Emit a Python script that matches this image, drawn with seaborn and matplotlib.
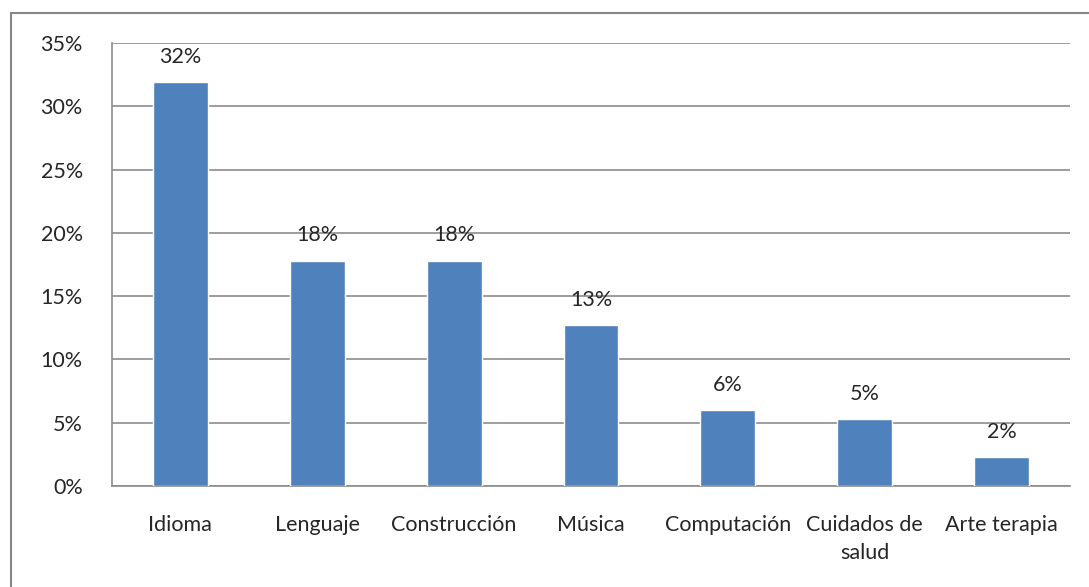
import numpy as np
import pandas as pd
import matplotlib
matplotlib.use("Agg")
import matplotlib.pyplot as plt
from matplotlib.patches import Rectangle
from matplotlib.ticker import FuncFormatter, FixedLocator
import seaborn as sns

# datos
categorias = ["Idioma", "Lenguaje", "Construcción", "Música", "Computación",
              "Cuidados de\nsalud", "Arte terapia"]
porcentajes = [0.319, 0.178, 0.178, 0.127, 0.060, 0.053, 0.023]
etiquetas = ["32%", "18%", "18%", "13%", "6%", "5%", "2%"]

df = pd.DataFrame({"categoria": categorias, "valor": porcentajes})

sns.set_style("white")
plt.rcParams["font.family"] = ["Lato", "DejaVu Sans"]

fig = plt.figure(figsize=(10.89, 5.87), dpi=100)
W, H = 1089, 587
ax = fig.add_axes([112 / W, 1 - 486 / H, (1070 - 112) / W, (486 - 43) / H])

sns.barplot(data=df, x="categoria", y="valor", color="#4F81BD", width=0.4,
            saturation=1, ax=ax, zorder=3)

gris = "#8c8c8c"
fs = 15.5
ax.set_ylim(0, 0.35)
ax.set_xlim(-0.5, 6.5)
ax.set_yticks(np.arange(0, 0.351, 0.05))
ax.yaxis.set_major_formatter(FuncFormatter(lambda v, p: f"{v*100:.0f}%"))
ax.grid(axis="y", color=gris, linewidth=1.2, zorder=0)
ax.set_axisbelow(True)

ax.xaxis.set_minor_locator(FixedLocator(np.arange(-0.5, 7, 1)))
ax.tick_params(axis="x", which="major", length=0, pad=21, labelsize=fs)
ax.tick_params(axis="x", which="minor", length=7, width=1.2, color=gris, direction="out")
ax.tick_params(axis="y", length=7, width=1.2, color=gris, direction="out", labelsize=fs, pad=14)
for lab in ax.get_xticklabels():
    lab.set_linespacing(1.5)
ax.set_xlabel("")
ax.set_ylabel("")

for s in ["top", "right"]:
    ax.spines[s].set_visible(False)
for s in ["left", "bottom"]:
    ax.spines[s].set_color(gris)
    ax.spines[s].set_linewidth(1.2)

for i, (v, t) in enumerate(zip(porcentajes, etiquetas)):
    ax.annotate(t, (i, v), xytext=(0, 11), textcoords="offset points",
                ha="center", va="bottom", fontsize=fs)

# marco exterior del grafico
fig.patches.append(Rectangle((11 / W, -0.1), 1.2, 1 - 13 / H + 0.1,
                             transform=fig.transFigure, fill=False,
                             edgecolor="#868686", linewidth=1.5))

fig.savefig("out.png", dpi=100)
